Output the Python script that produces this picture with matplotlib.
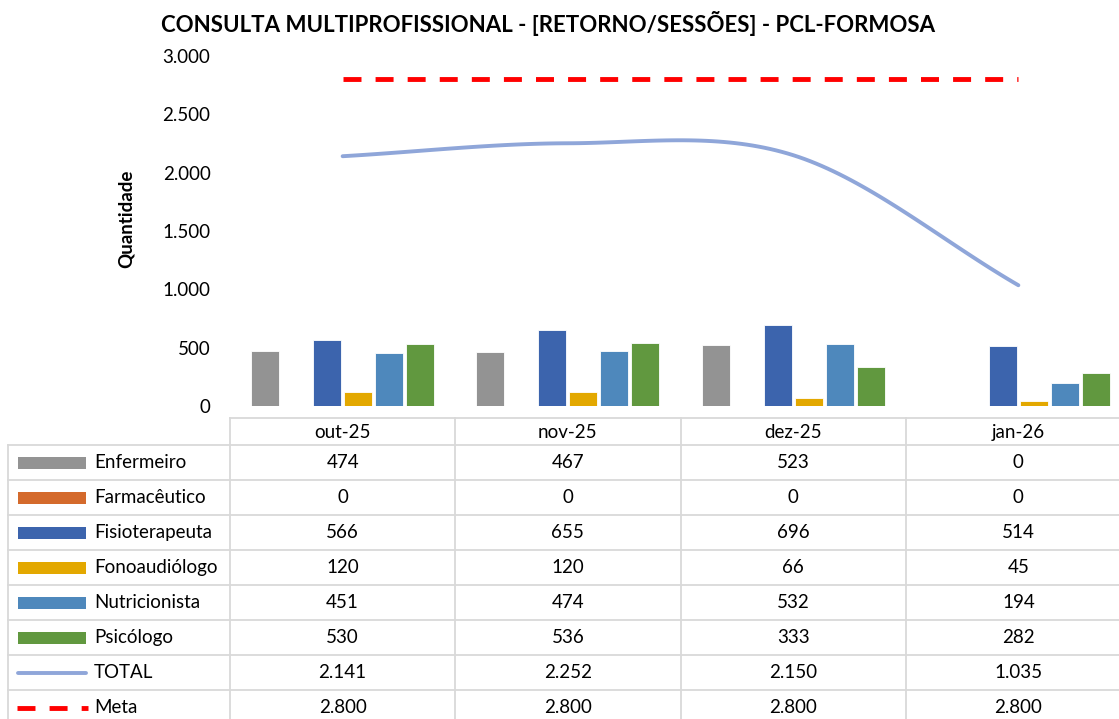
import matplotlib.pyplot as plt
import numpy as np

plt.rcParams['font.family'] = ['Lato', 'DejaVu Sans']

months = ["out-25", "nov-25", "dez-25", "jan-26"]
series = ["Enfermeiro", "Farmacêutico", "Fisioterapeuta", "Fonoaudiólogo", "Nutricionista", "Psicólogo"]
enfermeiro = [474, 467, 523, 0]
farmaceutico = [0, 0, 0, 0]
fisioterapeuta = [566, 655, 696, 514]
fonoaudiologo = [120, 120, 66, 45]
nutricionista = [451, 474, 532, 194]
psicologo = [530, 536, 333, 282]
total = [2141, 2252, 2150, 1035]
meta = [2800, 2800, 2800, 2800]

bar_colors = ["#939393", "#D46A2C", "#3C64AD", "#E3A800", "#4E88BC", "#61983F"]
total_color = "#8FA6D9"
meta_color = "#FF0000"
grid_color = "#D9D9D9"

W, H = 1119, 719
FS = 13.5
META_DASH = (3.7, 2.9)


def fmt(v):
    return f"{v:,.0f}".replace(",", ".")


def catmull_rom(xs, ys, n=40):
    # smooth curve like Excel's "smoothed line"
    px = np.concatenate([[2 * xs[0] - xs[1]], xs, [2 * xs[-1] - xs[-2]]])
    py = np.concatenate([[2 * ys[0] - ys[1]], ys, [2 * ys[-1] - ys[-2]]])
    ox, oy = [], []
    for i in range(1, len(px) - 2):
        t = np.linspace(0, 1, n)
        for p, out in ((px, ox), (py, oy)):
            p0, p1, p2, p3 = p[i - 1], p[i], p[i + 1], p[i + 2]
            out.extend(0.5 * (2 * p1 + (-p0 + p2) * t + (2 * p0 - 5 * p1 + 4 * p2 - p3) * t ** 2
                              + (-p0 + 3 * p1 - 3 * p2 + p3) * t ** 3))
    return np.array(ox), np.array(oy)


fig = plt.figure(figsize=(W / 100, H / 100), dpi=100)

# chart area, in pixel units of the figure
left, right, top, bottom = 230, 1131, 56, 406
ax = fig.add_axes([left / W, (H - bottom) / H, (right - left) / W, (bottom - top) / H])

x = np.arange(len(months))
values = [enfermeiro, farmaceutico, fisioterapeuta, fonoaudiologo, nutricionista, psicologo]
step, width = 0.1378, 0.1244
for j, (vals, c) in enumerate(zip(values, bar_colors)):
    ax.bar(x + (j - 2.5) * step, vals, width, color=c, edgecolor="white", linewidth=0.6)

sx, sy = catmull_rom(x.astype(float), np.array(total, dtype=float))
ax.plot(sx, sy, color=total_color, lw=2.8, solid_capstyle="round")
ax.plot(x, meta, color=meta_color, lw=3.5, dashes=META_DASH)

ax.set_xlim(-0.5, len(months) - 0.5)
ax.set_ylim(0, 3000)
ax.set_yticks(range(0, 3001, 500))
ax.set_yticklabels([fmt(v) for v in range(0, 3001, 500)], fontsize=FS)
ax.tick_params(axis="y", length=0, pad=14)
ax.set_xticks([])
for s in ax.spines.values():
    s.set_visible(False)
ax.set_ylabel("Quantidade", fontsize=FS, fontweight="bold")
ax.yaxis.set_label_coords((135 - left) / (right - left), (bottom - 219) / (bottom - top))

fig.text(548 / W, 1 - 24 / H, "CONSULTA MULTIPROFISSIONAL - [RETORNO/SESSÕES] - PCL-FORMOSA",
         ha="center", va="center", fontsize=16, fontweight="bold")

# data table below the chart
tab = fig.add_axes([0, 0, 1, 1])
tab.set_xlim(0, W)
tab.set_ylim(H, 0)
tab.axis("off")

col_edges = [left + i * (right - left) / len(months) for i in range(len(months) + 1)]
head_top, row_top, row_h = 418, 445, 35
rows = series + ["TOTAL", "Meta"]
row_vals = values + [total, meta]
n_rows = len(rows)
table_bottom = row_top + n_rows * row_h

lw = 1.3
tab.plot([left, right], [head_top, head_top], color=grid_color, lw=lw)
for xe in col_edges:
    tab.plot([xe, xe], [head_top, table_bottom], color=grid_color, lw=lw)
tab.plot([8, 8], [row_top, table_bottom], color=grid_color, lw=lw)
for r in range(n_rows + 1):
    yy = row_top + r * row_h
    tab.plot([8, right], [yy, yy], color=grid_color, lw=lw)

for i, m in enumerate(months):
    cx = (col_edges[i] + col_edges[i + 1]) / 2
    tab.text(cx, (head_top + row_top) / 2 + 1, m, ha="center", va="center", fontsize=FS)

for r, (name, vals) in enumerate(zip(rows, row_vals)):
    cy = row_top + r * row_h + row_h / 2
    if r < len(series):
        tab.add_patch(plt.Rectangle((18, cy - 6), 68, 12, color=bar_colors[r], lw=0))
    elif name == "TOTAL":
        tab.plot([18, 86], [cy, cy], color=total_color, lw=2.8, solid_capstyle="round")
    else:
        tab.plot([17, 88], [cy, cy], color=meta_color, lw=3.5, dashes=META_DASH)
    tab.text(94, cy, name, ha="left", va="center", fontsize=FS)
    for i, v in enumerate(vals):
        cx = (col_edges[i] + col_edges[i + 1]) / 2
        tab.text(cx, cy, fmt(v), ha="center", va="center", fontsize=FS)

fig.savefig("out.png", dpi=100)
